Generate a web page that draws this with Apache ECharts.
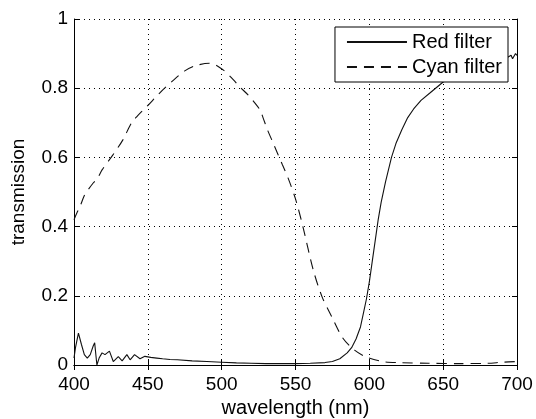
<!DOCTYPE html>
<html>
<head>
<meta charset="utf-8">
<script src="https://cdn.jsdelivr.net/npm/echarts@6/dist/echarts.min.js"></script>
<style>html,body{margin:0;padding:0;background:#fff}#c{width:536px;height:419px}</style>
</head>
<body>
<div id="c"></div>
<script>
const xTicks = [400, 450, 500, 550, 600, 650, 700];
const yTicks = [0, 0.2, 0.4, 0.6, 0.8, 1];

const redWl = [400,401,403,405,407,409,411,413,414,415.5,417,419,421,424,426.6,430,432.6,435.8,438,441,444.7,448,452,456,460,465,470,480,490,500,510,520,530,540,550,560,570,575,580,585,588,591,594,596,598,600,602,604,606,608,611,615,618,622,626,630,635,641,650,660,670,680,690,694,696,697,699,700];
const redT  = [0.02,0.05,0.092,0.06,0.03,0.02,0.03,0.055,0.064,0.0,0.02,0.035,0.03,0.04,0.01,0.024,0.012,0.03,0.015,0.03,0.018,0.025,0.022,0.02,0.018,0.016,0.015,0.012,0.01,0.008,0.006,0.005,0.004,0.004,0.004,0.005,0.007,0.01,0.018,0.035,0.05,0.075,0.11,0.15,0.19,0.24,0.3,0.36,0.42,0.47,0.53,0.6,0.64,0.68,0.715,0.74,0.765,0.786,0.818,0.835,0.85,0.865,0.88,0.89,0.895,0.885,0.9,0.895];

const cyanWl = [400,402,404,407,409.5,413,416,419,426,433,439,443,450,458,467,475,483,492,501,508,512,518,522,526,528,531,534,538,541,545,550,555,562,568,574.5,582,590,598,609,620,640,660,680,690,700];
const cyanT  = [0.42,0.44,0.457,0.49,0.506,0.526,0.54,0.564,0.605,0.65,0.7,0.72,0.75,0.786,0.822,0.85,0.866,0.872,0.853,0.824,0.805,0.78,0.76,0.737,0.715,0.68,0.65,0.61,0.58,0.54,0.48,0.40,0.275,0.197,0.14,0.078,0.043,0.023,0.01,0.007,0.005,0.004,0.005,0.008,0.01];

const FONT = 'Liberation Sans, Arial, sans-serif';
const zip = (a, b) => a.map((v, i) => [v, b[i]]);

const chart = echarts.init(document.getElementById('c'), null, {renderer: 'canvas'});
const axisBase = {
  axisLine: {show: true, lineStyle: {color: '#000', width: 1}},
  axisTick: {show: true, inside: true, length: 5, lineStyle: {color: '#000'}}
};
chart.setOption({
  animation: false,
  backgroundColor: '#fff',
  grid: {left: 74, right: 19, top: 19, bottom: 54, containLabel: false, outerBoundsMode: 'none'},
  legend: {
    orient: 'vertical', right: 28, top: 27,
    backgroundColor: '#fff', borderColor: '#000', borderWidth: 1,
    padding: [5, 6, 5, 11],
    itemWidth: 60, itemHeight: 14, itemGap: 5,
    itemStyle: {opacity: 0},
    textStyle: {fontFamily: FONT, fontSize: 20, color: '#000', padding: [0,0,0,0]},
    data: ['Red filter', 'Cyan filter']
  },
  xAxis: [
    Object.assign({}, axisBase, {
      type: 'value', min: xTicks[0], max: xTicks[xTicks.length-1], interval: 50,
      position: 'bottom',
      name: 'wavelength (nm)', nameLocation: 'middle', nameGap: 29,
      nameTextStyle: {fontFamily: FONT, fontSize: 20, color: '#000'},
      axisLabel: {fontFamily: FONT, fontSize: 19, color: '#000', margin: 10},
      splitLine: {show: true, lineStyle: {color: '#000', type: [1, 4], width: 1}}
    }),
    Object.assign({}, axisBase, {
      type: 'value', min: xTicks[0], max: xTicks[xTicks.length-1], interval: 50,
      position: 'top', axisLabel: {show: false}, splitLine: {show: false}
    })
  ],
  yAxis: [
    Object.assign({}, axisBase, {
      type: 'value', min: yTicks[0], max: yTicks[yTicks.length-1], interval: 0.2,
      position: 'left',
      name: 'transmission', nameLocation: 'middle', nameGap: 46,
      nameTextStyle: {fontFamily: FONT, fontSize: 19, color: '#000'},
      axisLabel: {fontFamily: FONT, fontSize: 19, color: '#000', margin: 6},
      splitLine: {show: true, lineStyle: {color: '#000', type: [1, 4], width: 1}}
    }),
    Object.assign({}, axisBase, {
      type: 'value', min: yTicks[0], max: yTicks[yTicks.length-1], interval: 0.2,
      position: 'right', axisLabel: {show: false}, splitLine: {show: false}
    })
  ],
  series: [
    {
      name: 'Red filter', type: 'line', data: zip(redWl, redT),
      symbol: 'none', smooth: false,
      lineStyle: {color: '#111', width: 1.1, type: 'solid'},
      itemStyle: {color: '#111'}
    },
    {
      name: 'Cyan filter', type: 'line', data: zip(cyanWl, cyanT),
      symbol: 'none', smooth: 0.3,
      lineStyle: {color: '#111', width: 1.1, type: [10, 7]},
      itemStyle: {color: '#111'}
    }
  ]
});
</script>
</body>
</html>
